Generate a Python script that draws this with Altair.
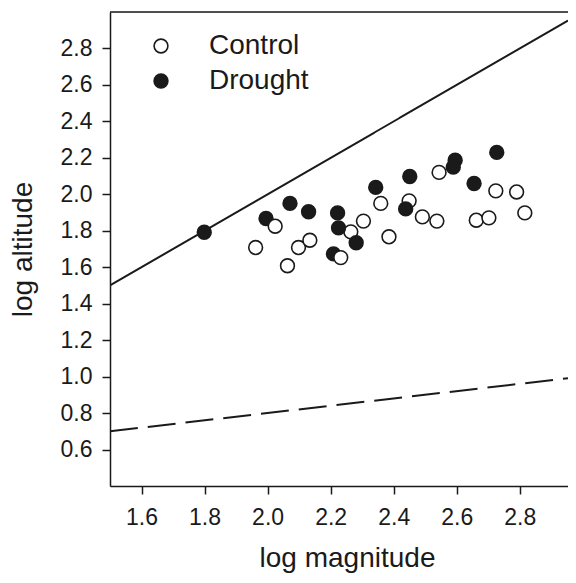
import altair as alt
import pandas as pd

# Control (open circles) and Drought (filled circles), log magnitude vs log altitude
control_x = [1.962, 2.098, 2.134, 2.063, 2.264, 2.304, 2.359, 2.385, 2.449, 2.491,
             2.537, 2.544, 2.724, 2.790, 2.816, 2.662, 2.702, 2.024, 2.232]
control_y = [1.708, 1.708, 1.748, 1.608, 1.794, 1.853, 1.950, 1.767, 1.964, 1.876,
             1.853, 2.120, 2.019, 2.013, 1.898, 1.858, 1.871, 1.825, 1.653]

drought_x = [1.799, 1.995, 2.071, 2.130, 2.222, 2.225, 2.281, 2.209, 2.343, 2.451,
             2.438, 2.595, 2.589, 2.655, 2.727]
drought_y = [1.792, 1.867, 1.950, 1.904, 1.898, 1.816, 1.734, 1.673, 2.038, 2.098,
             1.920, 2.187, 2.149, 2.059, 2.230]

# reference lines (end points)
line11_x = [1.5, 2.953]
line11_y = [1.5, 2.953]
dash_x = [1.5, 2.953]
dash_y = [0.70, 0.991]

x_ticks = [1.6, 1.8, 2.0, 2.2, 2.4, 2.6, 2.8]
y_ticks = [0.6, 0.8, 1.0, 1.2, 1.4, 1.6, 1.8, 2.0, 2.2, 2.4, 2.6, 2.8]
x_domain = [1.5, 2.953]
y_domain = [0.4, 3.0]

rows = []
for xv, yv in zip(control_x[:17], control_y[:17]):
    rows.append({"mag": xv, "alt": yv, "group": "Control"})
for xv, yv in zip(drought_x, drought_y):
    rows.append({"mag": xv, "alt": yv, "group": "Drought"})
for xv, yv in zip(control_x[17:], control_y[17:]):
    rows.append({"mag": xv, "alt": yv, "group": "Control"})
pts = pd.DataFrame(rows)
pts["ord"] = range(len(pts))

lines = pd.DataFrame({
    "mag": line11_x + dash_x,
    "alt": line11_y + dash_y,
    "kind": ["solid"] * 2 + ["dashed"] * 2,
})

FONT = "Liberation Sans"
INK = "#1a1a1a"

xenc = alt.X("mag:Q", scale=alt.Scale(domain=x_domain, nice=False, zero=False),
             axis=alt.Axis(values=x_ticks, format=".1f", title="log magnitude",
                           grid=False, domainColor=INK, domainWidth=1.5,
                           tickColor=INK, tickWidth=1.5, tickSize=8,
                           labelFontSize=23, labelPadding=12, labelColor=INK,
                           labelFont=FONT, titleFont=FONT, titleFontSize=28,
                           titleFontWeight="normal", titleColor=INK,
                           titleX=237, titleY=80, titleBaseline="alphabetic"))
yenc = alt.Y("alt:Q", scale=alt.Scale(domain=y_domain, nice=False, zero=False),
             axis=alt.Axis(values=y_ticks, format=".1f", title="log altitude",
                           grid=False, domainColor=INK, domainWidth=1.5,
                           tickColor=INK, tickWidth=1.5, tickSize=8,
                           labelFontSize=23, labelPadding=10, labelColor=INK,
                           labelFont=FONT, titleFont=FONT, titleFontSize=28,
                           titleFontWeight="normal", titleColor=INK,
                           titleX=-73, titleY=237))

line_layer = alt.Chart(lines).mark_line(clip=True, strokeWidth=2, color=INK).encode(
    x=xenc, y=yenc,
    detail="kind:N",
    strokeDash=alt.StrokeDash("kind:N", scale=alt.Scale(domain=["solid", "dashed"],
                                                         range=[[1, 0], [28, 10]]),
                              legend=None),
)

top_rule = alt.Chart(pd.DataFrame({"alt": [y_domain[1]]})).mark_rule(
    color=INK, strokeWidth=1.5).encode(y=alt.Y("alt:Q", scale=alt.Scale(domain=y_domain)))

point_layer = alt.Chart(pts).mark_point(shape="circle", filled=True, size=190,
                                        stroke=INK, strokeWidth=1.6, opacity=1).encode(
    x="mag:Q", y="alt:Q",
    fill=alt.Fill("group:N", scale=alt.Scale(domain=["Control", "Drought"],
                                             range=["white", INK]),
                  legend=alt.Legend(title=None, orient="none", legendX=37, legendY=20,
                                    padding=0, labelFontSize=28, labelFont=FONT,
                                    labelColor=INK, labelOffset=34, rowPadding=7,
                                    symbolType="circle", symbolSize=190,
                                    symbolStrokeColor=INK, symbolStrokeWidth=1.6)),
    order="ord:Q",
)

chart = alt.layer(line_layer, top_rule, point_layer).properties(
    width=458, height=474,
    autosize=alt.AutoSizeParams(type="none"),
    padding={"left": 102, "top": 4, "right": 0, "bottom": 89},
).configure_view(stroke=None).configure(background="white")

chart.save("out.html", embed_options={"renderer": "svg", "actions": False})
